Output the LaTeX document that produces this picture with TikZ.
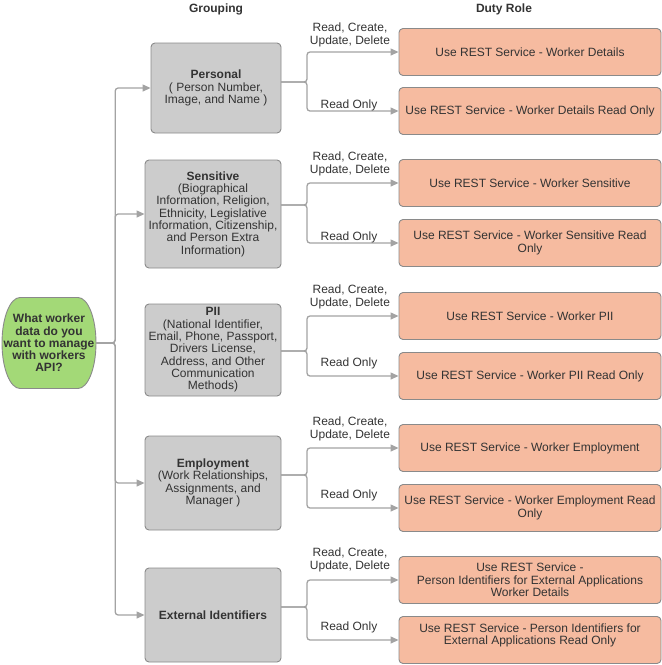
\documentclass[tikz,border=0pt]{standalone}
\usepackage{fontspec}
\setmainfont{Liberation Sans}
\usetikzlibrary{arrows.meta}
\definecolor{grpfill}{HTML}{CCCCCC}
\definecolor{dutyfill}{HTML}{F6BBA0}
\definecolor{qfill}{HTML}{A3D977}
\definecolor{edgecol}{HTML}{8A8A8A}
\definecolor{wire}{HTML}{A3A3A3}
\definecolor{ink}{HTML}{333333}
\tikzset{
  base/.style={font=\fontsize{12}{12.3}\selectfont, text=ink, align=center, inner sep=0pt},
  bold/.style={base, font=\bfseries\fontsize{12}{12.3}\selectfont},
  grp/.style={base, draw=edgecol, fill=grpfill, rounded corners=4pt, line width=0.9pt, minimum width=136pt},
  duty/.style={base, draw=edgecol, fill=dutyfill, rounded corners=4pt, line width=0.9pt, minimum width=262pt, minimum height=47pt},
  wirepath/.style={draw=wire, line width=1.3pt, rounded corners=3pt, -{Triangle[length=8pt,width=7pt]}},
  lbl/.style={base},
}
\begin{document}
\begin{tikzpicture}[x=1pt,y=-1pt]
\useasboundingbox (0,0) rectangle (662,665);

% headers
\node[bold] (h1) at (216,9) {Grouping};
\node[bold] (h2) at (504,9) {Duty Role};

% question shape
\draw[draw=edgecol, fill=qfill, line width=0.9pt]
  (20,297.5) -- (78,297.5) arc[start angle=90, end angle=-90, x radius=18pt, y radius=45.5pt]
  -- (20,388.5) arc[start angle=270, end angle=90, x radius=18pt, y radius=45.5pt] -- cycle;
\node[bold, minimum width=94pt, minimum height=91pt] (q) at (49,343) {What worker\\data do you\\want to manage\\with workers\\API?};

% groups
\node[grp, minimum width=130pt, minimum height=90pt] (p) at (216,88) {\textbf{Personal}\\( Person Number,\\Image, and Name )};
\node[grp, minimum height=108pt] (s) at (213,214) {\textbf{Sensitive}\\(Biographical\\Information, Religion,\\Ethnicity, Legislative\\Information, Citizenship,\\and Person Extra\\Information)};
\node[grp, minimum height=92pt] (pii) at (213,350) {\textbf{PII}\\(National Identifier,\\Email, Phone, Passport,\\Drivers License,\\Address, and Other\\Communication\\Methods)};
\node[grp, minimum height=94pt] (e) at (213,483) {\textbf{Employment}\\(Work Relationships,\\Assignments, and\\Manager )};
\node[grp, minimum height=94pt] (x) at (213,615) {\textbf{External Identifiers}};

% duty roles
\node[duty] (d1) at (530,52) {Use REST Service - Worker Details};
\node[duty] (d2) at (530,111) {Use REST Service - Worker Details Read Only};
\node[duty] (d3) at (530,183) {Use REST Service - Worker Sensitive};
\node[duty] (d4) at (530,243) {Use REST Service - Worker Sensitive Read\\Only};
\node[duty] (d5) at (530,316) {Use REST Service - Worker PII};
\node[duty] (d6) at (530,376) {Use REST Service - Worker PII Read Only};
\node[duty] (d7) at (530,448) {Use REST Service - Worker Employment};
\node[duty] (d8) at (530,508) {Use REST Service - Worker Employment Read\\Only};
\node[duty] (d9) at (530,580) {Use REST Service -\\Person Identifiers for External Applications\\Worker Details};
\node[duty] (d10) at (530,640) {Use REST Service - Person Identifiers for\\External Applications Read Only\\\mbox{}};

% trunk
\draw[wirepath] (q.east) -- ++(19,0) |- (p.west);
\draw[wirepath] (q.east) -- ++(19,0) |- (s.west);
\draw[wirepath] (q.east) -- ++(19,0) |- (e.west);
\draw[wirepath] (q.east) -- ++(19,0) |- (x.west);

% fork exits
\coordinate (po) at (281,82);
\coordinate (so) at (281,205);
\coordinate (pio) at (281,351);
\coordinate (eo) at (281,475);
\coordinate (xo) at (281,607);

\foreach \src/\a/\b in {po/d1/d2, so/d3/d4, pio/d5/d6, eo/d7/d8, xo/d9/d10}{
  \draw[wirepath] (\src) -- ++(26,0) |- (\a.west);
  \draw[wirepath] (\src) -- ++(26,0) |- (\b.west);
}

% labels
\node[lbl] (l1a) at (350,35) {Read, Create,\\Update, Delete};
\node[lbl] (l1b) at (349,105) {Read Only};
\node[lbl] (l2a) at (350,164) {Read, Create,\\Update, Delete};
\node[lbl] (l2b) at (349,237) {Read Only};
\node[lbl] (l3a) at (350,297) {Read, Create,\\Update, Delete};
\node[lbl] (l3b) at (349,363) {Read Only};
\node[lbl] (l4a) at (350,429) {Read, Create,\\Update, Delete};
\node[lbl] (l4b) at (349,495) {Read Only};
\node[lbl] (l5a) at (350,560) {Read, Create,\\Update, Delete};
\node[lbl] (l5b) at (349,627) {Read Only};
\end{tikzpicture}
\end{document}
